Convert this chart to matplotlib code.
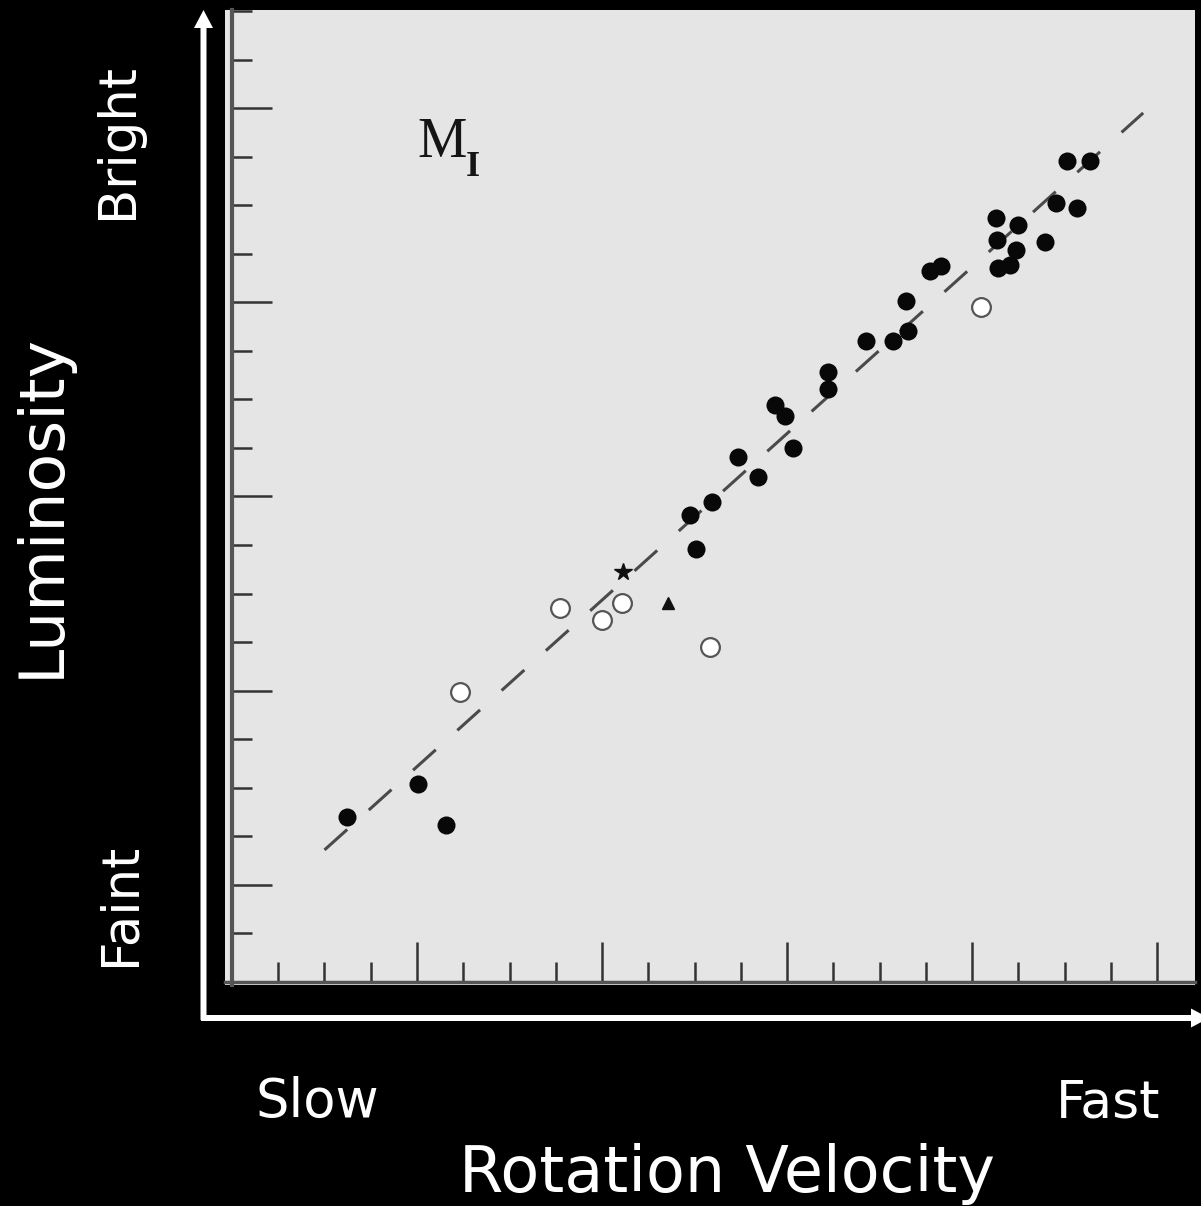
import matplotlib
matplotlib.use("Agg")
import matplotlib.pyplot as plt
import numpy as np
from matplotlib.patches import FancyArrow
from matplotlib.ticker import FixedLocator

# ---------------- data (in tick units) ----------------
filled_x = [2.49, 4.02, 4.63, 9.90, 10.38, 10.03, 10.94, 11.37, 11.74, 11.96,
            12.13, 12.88, 12.88, 13.71, 14.29, 14.57, 14.62, 15.09, 15.33,
            16.52, 16.99, 16.54, 16.95, 16.56, 16.82, 17.58, 17.82, 18.27,
            18.05, 18.55]
filled_y = [3.40, 4.08, 3.23, 9.62, 9.88, 8.92, 10.81, 10.40, 11.88, 11.66,
            11.00, 12.56, 12.21, 13.20, 13.20, 14.02, 13.41, 14.64, 14.74,
            15.73, 15.59, 15.28, 15.07, 14.70, 14.77, 15.24, 16.04, 15.94,
            16.91, 16.91]
open_x = [4.93, 7.09, 8.00, 8.43, 10.34, 16.19]
open_y = [5.97, 7.70, 7.45, 7.80, 6.90, 13.90]
tri_x = [9.43]
tri_y = [7.80]
star_x = [8.45]
star_y = [8.44]
fit_x = [2.0, 19.7]
fit_y = [2.72, 17.90]

x_label = "Rotation Velocity"
y_label = "Luminosity"
x_low, x_high = "Slow", "Fast"
y_low, y_high = "Faint", "Bright"
panel_label = "M"
panel_sub = "I"

# ---------------- figure ----------------
W, H = 1201, 1206
fig = plt.figure(figsize=(W / 100, H / 100), dpi=100, facecolor="black")

ax = fig.add_axes([225 / W, 1 - 985 / H, (1195 - 225) / W, (985 - 10) / H])
ax.set_facecolor("#e5e5e5")
ax.set_xlim(-0.151, 20.82)
ax.set_ylim(-0.062, 20.02)

for s in ("top", "right"):
    ax.spines[s].set_visible(False)
ax.spines["left"].set_position(("data", 0))
ax.spines["bottom"].set_position(("data", 0))
ax.spines["left"].set_color("#555555")
ax.spines["left"].set_linewidth(3.0)
ax.spines["bottom"].set_color("#555555")
ax.spines["bottom"].set_linewidth(2.5)

ax.xaxis.set_major_locator(FixedLocator(np.arange(4, 21, 4)))
ax.xaxis.set_minor_locator(FixedLocator(np.arange(1, 21, 1)))
ax.yaxis.set_major_locator(FixedLocator(np.arange(2, 21, 4)))
ax.yaxis.set_minor_locator(FixedLocator(np.arange(1, 21, 1)))
ax.tick_params(which="both", direction="in", colors="#333333",
               labelbottom=False, labelleft=False)
ax.tick_params(which="major", length=29, width=1.8)
ax.tick_params(which="minor", length=14.5, width=1.8)

# fit line
ax.plot(fit_x, fit_y, color="#4a4a4a", lw=2.2, dashes=(10, 9.5),
        solid_capstyle="butt", zorder=2)

# points
ax.plot(filled_x, filled_y, "o", ms=13, mfc="#080808", mec="#080808",
        mew=0, zorder=3, clip_on=False)
ax.plot(open_x, open_y, "o", ms=13.5, mfc="white", mec="#555555",
        mew=1.6, zorder=3)
ax.plot(tri_x, tri_y, "^", ms=8, mfc="#111111", mec="#111111", zorder=3)
ax.plot(star_x, star_y, "*", ms=13, mfc="#111111", mec="#111111", zorder=3)

# panel label
ax.text(4.0, 17.0, panel_label, fontsize=40, family="Liberation Serif",
        color="#151515", ha="left", va="baseline")
ax.text(5.05, 16.6, panel_sub, fontsize=26, family="Liberation Serif",
        weight="bold", color="#151515", ha="left", va="baseline")

# ---------------- overlay for arrows and labels (pixel coords) ----------------
ov = fig.add_axes([0, 0, 1, 1], zorder=5)
ov.set_xlim(0, W)
ov.set_ylim(H, 0)
ov.axis("off")
ov.patch.set_alpha(0)

ov.add_patch(FancyArrow(203.5, 1020, 0, -1010, width=6, head_width=19,
                        head_length=18, length_includes_head=True,
                        color="white", lw=0))
ov.add_patch(FancyArrow(201, 1018, 1008, 0, width=6, head_width=19,
                        head_length=18, length_includes_head=True,
                        color="white", lw=0))

ov.text(42, 506, y_label, rotation=90, fontsize=45.5, color="white",
        ha="center", va="center", family="DejaVu Sans")
ov.text(118, 141, y_high, rotation=90, fontsize=37, color="white",
        ha="center", va="center", family="DejaVu Sans")
ov.text(120, 904, y_low, rotation=90, fontsize=37, color="white",
        ha="center", va="center", family="DejaVu Sans")
ov.text(317, 1117, x_low, fontsize=38, color="white",
        ha="center", va="baseline", family="DejaVu Sans")
ov.text(1108, 1117, x_high, fontsize=37.5, color="white",
        ha="center", va="baseline", family="DejaVu Sans")
ov.text(727, 1192, x_label, fontsize=45.8, color="white",
        ha="center", va="baseline", family="DejaVu Sans")

fig.savefig("out.png", dpi=100, facecolor="black")
